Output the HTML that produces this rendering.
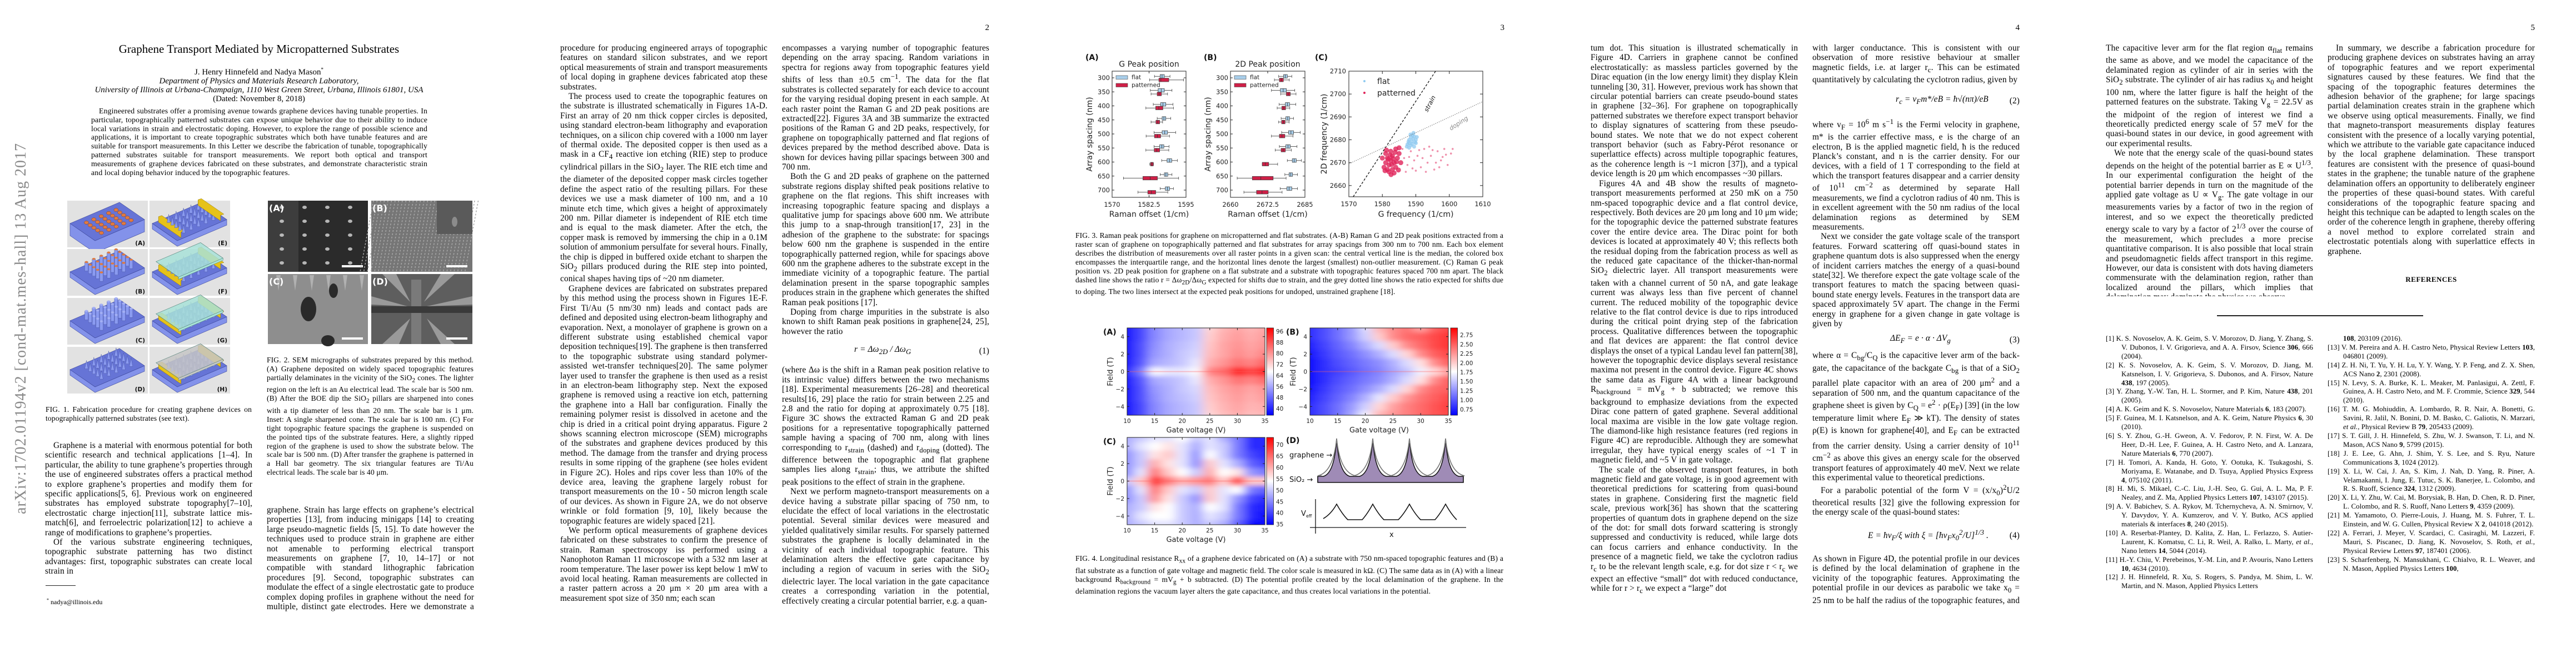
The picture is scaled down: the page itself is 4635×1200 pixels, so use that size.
<!DOCTYPE html>
<html lang="en"><head><meta charset="utf-8"><title>Graphene Transport Mediated by Micropatterned Substrates</title>
<style>
html,body{margin:0;padding:0;background:#fff}
#root{position:relative;width:4635px;height:1200px;overflow:hidden;background:#fff;font-family:"Liberation Serif",serif;color:#000}
.col{position:absolute;width:373px;font-size:15.3px;line-height:17.4px;letter-spacing:0.15px;text-align:justify;overflow:hidden;hyphens:auto}
.col p{margin:0;text-indent:15px}
.col p.ni{text-indent:0}
.eq{display:flex;justify-content:space-between;align-items:center;height:40px;padding-left:60px;font-style:italic}
.eq span.n{font-style:normal}
.cap{position:absolute;font-size:13.5px;line-height:15.9px;text-align:justify;overflow:hidden;letter-spacing:0.15px}
.pn{position:absolute;top:42px;font-size:15px;width:40px;text-align:right}
.refs{position:absolute;width:373px;font-size:12.8px;line-height:15.9px;text-align:justify;overflow:hidden;letter-spacing:0.1px}
.refs div{padding-left:28px;text-indent:-28px}
.ctr{position:absolute;text-align:center;white-space:nowrap}
svg text{font-family:"DejaVu Sans",sans-serif}
</style></head><body>
<div id="root">

<!-- PAGE 1 -->
<div class="ctr" style="left:38px;top:591px;transform:translate(-50%,-50%) rotate(-90deg);font-size:28px;color:#8a8a8a;letter-spacing:1px">arXiv:1702.01194v2  [cond-mat.mes-hall]  13 Aug 2017</div>
<div class="ctr" style="left:0;width:932px;top:76px;font-size:21px">Graphene Transport Mediated by Micropatterned Substrates</div>
<div class="ctr" style="left:0;width:932px;top:117px;font-size:15px;line-height:16px">J. Henry Hinnefeld and Nadya Mason<sup style="font-size:9px">*</sup><br><i>Department of Physics and Materials Research Laboratory,</i><br><i>University of Illinois at Urbana-Champaign, 1110 West Green Street, Urbana, Illinois 61801, USA</i><br>(Dated: November 8, 2018)</div>
<div class="cap" style="left:164px;top:192px;width:605px;font-size:13.8px;line-height:15.8px;text-indent:14px;height:145px">Engineered substrates offer a promising avenue towards graphene devices having tunable properties. In particular, topographically patterned substrates can expose unique behavior due to their ability to induce local variations in strain and electrostatic doping. However, to explore the range of possible science and applications, it is important to create topographic substrates which both have tunable features and are suitable for transport measurements. In this Letter we describe the fabrication of tunable, topographically patterned substrates suitable for transport measurements. We report both optical and transport measurements of graphene devices fabricated on these substrates, and demonstrate characteristic strain and local doping behavior induced by the topographic features.</div>
<div class="cap" style="left:82px;top:729px;width:371px;height:34px">FIG. 1. Fabrication procedure for creating graphene devices on topographically patterned substrates (see text).</div>
<div class="cap" style="left:480px;top:640px;width:372px;height:224px">FIG. 2. SEM micrographs of substrates prepared by this method. (A) Graphene deposited on widely spaced topographic features partially delaminates in the vicinity of the SiO<sub>2</sub> cones. The lighter region on the left is an Au electrical lead. The scale bar is 500 nm. (B) After the BOE dip the SiO<sub>2</sub> pillars are sharpened into cones with a tip diameter of less than 20 nm. The scale bar is 1 μm. Inset: A single sharpened cone. The scale bar is 100 nm. (C) For tight topographic feature spacings the graphene is suspended on the pointed tips of the substrate features. Here, a slightly ripped region of the graphene is used to show the substrate below. The scale bar is 500 nm. (D) After transfer the graphene is patterned in a Hall bar geometry. The six triangular features are Ti/Au electrical leads. The scale bar is 40 μm.</div>
<div class="col" style="left:81px;top:793px;height:245px"><p>Graphene is a material with enormous potential for both scientific research and technical applications [1–4]. In particular, the ability to tune graphene’s properties through the use of engineered substrates offers a practical method to explore graphene’s properties and modify them for specific applications[5, 6]. Previous work on engineered substrates has employed substrate topography[7–10], electrostatic charge injection[11], substrate lattice mis-match[6], and ferroelectric polarization[12] to achieve a range of modifications to graphene’s properties.</p><p>Of the various substrate engineering techniques, topographic substrate patterning has two distinct advantages: first, topographic substrates can create local strain in</p></div>
<div style="position:absolute;left:82px;top:1053px;width:54px;height:1px;background:#222"></div>
<div class="ctr" style="left:84px;top:1075px;font-size:12px"><sup style="font-size:8px">*</sup> nadya@illinois.edu</div>
<div class="col" style="left:480px;top:909px;height:192px"><p class="ni">graphene. Strain has large effects on graphene’s electrical properties [13], from inducing minigaps [14] to creating large pseudo-magnetic fields [5, 15]. To date however the techniques used to produce strain in graphene are either not amenable to performing electrical transport measurements on graphene [7, 10, 14–17] or not compatible with standard lithographic fabrication procedures [9]. Second, topographic substrates can modulate the effect of a single electrostatic gate to produce complex doping profiles in graphene without the need for multiple, distinct gate electrodes. Here we demonstrate a fabrication</p></div>

<!-- PAGE 2 -->
<div class="pn" style="left:1740px">2</div>
<div class="col" style="left:1008px;top:78px;height:1012px"><p class="ni">procedure for producing engineered arrays of topographic features on standard silicon substrates, and we report optical measurements of strain and transport measurements of local doping in graphene devices fabricated atop these substrates.</p><p>The process used to create the topographic features on the substrate is illustrated schematically in Figures 1A-D. First an array of 20 nm thick copper circles is deposited, using standard electron-beam lithography and evaporation techniques, on a silicon chip covered with a 1000 nm layer of thermal oxide. The deposited copper is then used as a mask in a CF<sub>4</sub> reactive ion etching (RIE) step to produce cylindrical pillars in the SiO<sub>2</sub> layer. The RIE etch time and the diameter of the deposited copper mask circles together define the aspect ratio of the resulting pillars. For these devices we use a mask diameter of 100 nm, and a 10 minute etch time, which gives a height of approximately 200 nm. Pillar diameter is independent of RIE etch time and is equal to the mask diameter. After the etch, the copper mask is removed by immersing the chip in a 0.1M solution of ammonium persulfate for several hours. Finally, the chip is dipped in buffered oxide etchant to sharpen the SiO<sub>2</sub> pillars produced during the RIE step into pointed, conical shapes having tips of ~20 nm diameter.</p><p>Graphene devices are fabricated on substrates prepared by this method using the process shown in Figures 1E-F. First Ti/Au (5 nm/30 nm) leads and contact pads are defined and deposited using electron-beam lithography and evaporation. Next, a monolayer of graphene is grown on a different substrate using established chemical vapor deposition techniques[19]. The graphene is then transferred to the topographic substrate using standard polymer-assisted wet-transfer techniques[20]. The same polymer layer used to transfer the graphene is then used as a resist in an electron-beam lithography step. Next the exposed graphene is removed using a reactive ion etch, patterning the graphene into a Hall bar configuration. Finally the remaining polymer resist is dissolved in acetone and the chip is dried in a critical point drying apparatus. Figure 2 shows scanning electron microscope (SEM) micrographs of the substrates and graphene devices produced by this method. The damage from the transfer and drying process results in some ripping of the graphene (see holes evident in Figure 2C). Holes and rips cover less than 10% of the device area, leaving the graphene largely robust for transport measurements on the 10 - 50 micron length scale of our devices. As shown in Figure 2A, we do not observe wrinkle or fold formation [9, 10], likely because the topographic features are widely spaced [21].</p><p>We perform optical measurements of graphene devices fabricated on these substrates to confirm the presence of strain. Raman spectroscopy iss performed using a Nanophoton Raman 11 microscope with a 532 nm laser at room temperature. The laser power iss kept below 1 mW to avoid local heating. Raman measurements are collected in a raster pattern across a 20 μm × 20 μm area with a measurement spot size of 350 nm; each scan</p></div>
<div class="col" style="left:1407px;top:78px;height:1012px"><p class="ni">encompasses a varying number of topographic features depending on the array spacing. Random variations in spectra for regions away from topographic features yield shifts of less than ±0.5 cm<sup>−1</sup>. The data for the flat substrates is collected separately for each device to account for the varying residual doping present in each sample. At each raster point the Raman G and 2D peak positions are extracted[22]. Figures 3A and 3B summarize the extracted positions of the Raman G and 2D peaks, respectively, for graphene on topographically patterned and flat regions of devices prepared by the method described above. Data is shown for devices having pillar spacings between 300 and 700 nm.</p><p>Both the G and 2D peaks of graphene on the patterned substrate regions display shifted peak positions relative to graphene on the flat regions. This shift increases with increasing topographic feature spacing and displays a qualitative jump for spacings above 600 nm. We attribute this jump to a snap-through transition[17, 23] in the adhesion of the graphene to the substrate: for spacings below 600 nm the graphene is suspended in the entire topographically patterned region, while for spacings above 600 nm the graphene adheres to the substrate except in the immediate vicinity of a topographic feature. The partial delamination present in the sparse topographic samples produces strain in the graphene which generates the shifted Raman peak positions [17].</p><p>Doping from charge impurities in the substrate is also known to shift Raman peak positions in graphene[24, 25], however the ratio</p><div class="eq" style="height:52px;padding-left:130px"><span>r = Δω<sub>2D</sub> / Δω<sub>G</sub></span><span class="n">(1)</span></div><p class="ni">(where Δω is the shift in a Raman peak position relative to its intrinsic value) differs between the two mechanisms [18]. Experimental measurements [26–28] and theoretical results[16, 29] place the ratio for strain between 2.25 and 2.8 and the ratio for doping at approximately 0.75 [18]. Figure 3C shows the extracted Raman G and 2D peak positions for a representative topographically patterned sample having a spacing of 700 nm, along with lines corresponding to r<sub>strain</sub> (dashed) and r<sub>doping</sub> (dotted). The difference between the topographic and flat graphene samples lies along r<sub>strain</sub>; thus, we attribute the shifted peak positions to the effect of strain in the graphene.</p><p>Next we perform magneto-transport measurements on a device having a substrate pillar spacing of 750 nm, to elucidate the effect of local variations in the electrostatic potential. Several similar devices were measured and yielded qualitatively similar results. For sparsely patterned substrates the graphene is locally delaminated in the vicinity of each individual topographic feature. This delamination alters the effective gate capacitance by including a region of vacuum in series with the SiO<sub>2</sub> dielectric layer. The local variation in the gate capacitance creates a corresponding variation in the potential, effectively creating a circular potential barrier, e.g. a quan-</p></div>

<!-- PAGE 3 -->
<div class="pn" style="left:2667px">3</div>
<div class="cap" style="left:1935px;top:416px;width:770px;height:128px">FIG. 3. Raman peak positions for graphene on micropatterned and flat substrates. (A-B) Raman G and 2D peak positions extracted from a raster scan of graphene on topographically patterned and flat substrates for array spacings from 300 nm to 700 nm. Each box element describes the distribution of measurements over all raster points in a given scan: the central vertical line is the median, the colored box encompasses the interquartile range, and the horizontal lines denote the largest (smallest) non-outlier measurement. (C) Raman G peak position vs. 2D peak position for graphene on a flat substrate and a substrate with topographic features spaced 700 nm apart. The black dashed line shows the ratio r = Δω<sub>2D</sub>/Δω<sub>G</sub> expected for shifts due to strain, and the grey dotted line shows the ratio expected for shifts due to doping. The two lines intersect at the expected peak positions for undoped, unstrained graphene [18].</div>
<div class="cap" style="left:1935px;top:997px;width:770px;height:80px">FIG. 4. Longitudinal resistance R<sub>xx</sub> of a graphene device fabricated on (A) a substrate with 750 nm-spaced topographic features and (B) a flat substrate as a function of gate voltage and magnetic field. The color scale is measured in kΩ. (C) The same data as in (A) with a linear background R<sub>background</sub> = mV<sub>g</sub> + b subtracted. (D) The potential profile created by the local delamination of the graphene. In the delamination regions the vacuum layer alters the gate capacitance, and thus creates local variations in the potential.</div>

<!-- PAGE 4 -->
<div class="pn" style="left:3594px">4</div>
<div class="col" style="left:2862px;top:78px;height:1012px"><p class="ni">tum dot. This situation is illustrated schematically in Figure 4D. Carriers in graphene cannot be confined electrostatically: as massless particles governed by the Dirac equation (in the low energy limit) they display Klein tunneling [30, 31]. However, previous work has shown that circular potential barriers can create pseudo-bound states in graphene [32–36]. For graphene on topographically patterned substrates we therefore expect transport behavior to display signatures of scattering from these pseudo-bound states. We note that we do not expect coherent transport behavior (such as Fabry-Pérot resonance or superlattice effects) across multiple topographic features, as the coherence length is ~1 micron [37]), and a typical device length is 20 μm which encompasses ~30 pillars.</p><p>Figures 4A and 4B show the results of magneto-transport measurements performed at 250 mK on a 750 nm-spaced topographic device and a flat control device, respectively. Both devices are 20 μm long and 10 μm wide; for the topographic device the patterned substrate features cover the entire device area. The Dirac point for both devices is located at approximately 40 V; this reflects both the residual doping from the fabrication process as well as the reduced gate capacitance of the thicker-than-normal SiO<sub>2</sub> dielectric layer. All transport measurements were taken with a channel current of 50 nA, and gate leakage current was always less than five percent of channel current. The reduced mobility of the topographic device relative to the flat control device is due to rips introduced during the critical point drying step of the fabrication process. Qualitative differences between the topographic and flat devices are apparent: the flat control device displays the onset of a typical Landau level fan pattern[38], however the topographic device displays several resistance maxima not present in the control device. Figure 4C shows the same data as Figure 4A with a linear background R<sub>background</sub> = mV<sub>g</sub> + b subtracted; we remove this background to emphasize deviations from the expected Dirac cone pattern of gated graphene. Several additional local maxima are visible in the low gate voltage region. The diamond-like high resistance features (red regions in Figure 4C) are reproducible. Although they are somewhat irregular, they have typical energy scales of ~1 T in magnetic field, and ~5 V in gate voltage.</p><p>The scale of the observed transport features, in both magnetic field and gate voltage, is in good agreement with theoretical predictions for scattering from quasi-bound states in graphene. Considering first the magnetic field scale, previous work[36] has shown that the scattering properties of quantum dots in graphene depend on the size of the dot: for small dots forward scattering is strongly suppressed and conductivity is reduced, while large dots can focus carriers and enhance conductivity. In the presence of a magnetic field, we take the cyclotron radius r<sub>c</sub> to be the relevant length scale, e.g. for dot size r &lt; r<sub>c</sub> we expect an effective “small” dot with reduced conductance, while for r &gt; r<sub>c</sub> we expect a “large” dot</p></div>
<div class="col" style="left:3261px;top:78px;height:1012px"><p class="ni">with larger conductance. This is consistent with our observation of more resistive behaviour at smaller magnetic fields, i.e. at larger r<sub>c</sub>. This can be estimated quantitatively by calculating the cyclotron radius, given by</p><div class="eq" style="height:58px;padding-left:150px"><span>r<sub>c</sub> = v<sub>F</sub>m*/eB = ħ√(nπ)/eB</span><span class="n">(2)</span></div><p class="ni">where v<sub>F</sub> = 10<sup>6</sup> m s<sup>−1</sup> is the Fermi velocity in graphene, m* is the carrier effective mass, e is the charge of an electron, B is the applied magnetic field, ħ is the reduced Planck’s constant, and n is the carrier density. For our devices, with a field of 1 T corresponding to the field at which the transport features disappear and a carrier density of 10<sup>11</sup> cm<sup>−2</sup> as determined by separate Hall measurements, we find a cyclotron radius of 40 nm. This is in excellent agreement with the 50 nm radius of the local delamination regions as determined by SEM measurements.</p><p>Next we consider the gate voltage scale of the transport features. Forward scattering off quasi-bound states in graphene quantum dots is also suppressed when the energy of incident carriers matches the energy of a quasi-bound state[32]. We therefore expect the gate voltage scale of the transport features to match the spacing between quasi-bound state energy levels. Features in the transport data are spaced approximately 5V apart. The change in the Fermi energy in graphene for a given change in gate voltage is given by</p><div class="eq" style="padding-left:140px"><span>ΔE<sub>F</sub> = e · α · ΔV<sub>g</sub></span><span class="n">(3)</span></div><p class="ni">where α = C<sub>bg</sub>/C<sub>Q</sub> is the capacitive lever arm of the back-gate, the capacitance of the backgate C<sub>bg</sub> is that of a SiO<sub>2</sub> parallel plate capacitor with an area of 200 μm<sup>2</sup> and a separation of 500 nm, and the quantum capacitance of the graphene sheet is given by C<sub>Q</sub> = e<sup>2</sup> · ρ(E<sub>F</sub>) [39] (in the low temperature limit where E<sub>F</sub> ≫ kT). The density of states ρ(E) is known for graphene[40], and E<sub>F</sub> can be extracted from the carrier density. Using a carrier density of 10<sup>11</sup> cm<sup>−2</sup> as above this gives an energy scale for the observed transport features of approximately 40 meV. Next we relate this experimental value to theoretical predictions.</p><p>For a parabolic potential of the form V = (x/x<sub>0</sub>)<sup>2</sup>U/2 theoretical results [32] give the following expression for the energy scale of the quasi-bound states:</p><div class="eq" style="height:66px;padding-left:100px"><span>E = ħv<sub>F</sub>/ξ   with   ξ = [ħv<sub>F</sub>x<sub>0</sub><sup>2</sup>/U]<sup>1/3</sup> .</span><span class="n">(4)</span></div><p class="ni">As shown in Figure 4D, the potential profile in our devices is defined by the local delamination of graphene in the vicinity of the topographic features. Approximating the potential profile in our devices as parabolic we take x<sub>0</sub> = 25 nm to be half the radius of the topographic features, and U to be the change in potential created by the locally varying gate capacitance</p><div class="eq" style="padding-left:100px"><span>U = e · V<sub>g</sub> · (α<sub>delaminated</sub> − α<sub>flat</sub>).</span><span class="n">(5)</span></div></div>

<!-- PAGE 5 -->
<div class="pn" style="left:4521px">5</div>
<div class="col" style="left:3789px;top:78px;height:455px"><p class="ni">The capacitive lever arm for the flat region α<sub>flat</sub> remains the same as above, and we model the capacitance of the delaminated region as cylinder of air in series with the SiO<sub>2</sub> substrate. The cylinder of air has radius x<sub>0</sub> and height 100 nm, where the latter figure is half the height of the patterned features on the substrate. Taking V<sub>g</sub> = 22.5V as the midpoint of the region of interest we find a theoretically predicted energy scale of 57 meV for the quasi-bound states in our device, in good agreement with our experimental results.</p><p>We note that the energy scale of the quasi-bound states depends on the height of the potential barrier as E ∝ U<sup>1/3</sup>. In our experimental configuration the height of the potential barrier depends in turn on the magnitude of the applied gate voltage as U ∝ V<sub>g</sub>. The gate voltage in our measurements varies by a factor of two in the region of interest, and so we expect the theoretically predicted energy scale to vary by a factor of 2<sup>1/3</sup> over the course of the measurement, which precludes a more precise quantitative comparison. It is also possible that local strain and pseudomagnetic fields affect transport in this regime. However, our data is consistent with dots having diameters commensurate with the delamination region, rather than localized around the pillars, which implies that delamination may dominate the physics we observe.</p></div>
<div class="col" style="left:4188px;top:78px;height:386px"><p>In summary, we describe a fabrication procedure for producing graphene devices on substrates having an array of topographic features and we report experimental signatures caused by these features. We find that the spacing of the topographic features determines the adhesion behavior of the graphene; for large spacings partial delamination creates strain in the graphene which we observe using optical measurements. Finally, we find that magneto-transport measurements display features consistent with the presence of a locally varying potential, which we attribute to the variable gate capacitance induced by the local graphene delamination. These transport features are consistent with the presence of quasi-bound states in the graphene; the tunable nature of the graphene delamination offers an opportunity to deliberately engineer the properties of these quasi-bound states. With careful considerations of the topographic feature spacing and height this technique can be adapted to length scales on the order of the coherence length in graphene, thereby offering a novel method to explore correlated strain and electrostatic potentials along with superlattice effects in graphene.</p></div>
<div class="ctr" style="left:4188px;width:373px;top:495px;font-size:13px;font-weight:bold;letter-spacing:0.5px">REFERENCES</div>
<div style="position:absolute;left:3989px;top:567px;width:371px;height:2px;background:#222"></div>
<div class="refs" style="left:3789px;top:602px;height:493px">
<div>[1] K. S. Novoselov, A. K. Geim, S. V. Morozov, D. Jiang, Y. Zhang, S. V. Dubonos, I. V. Grigorieva, and A. A. Firsov, Science <b>306</b>, 666 (2004).</div>
<div>[2] K. S. Novoselov, A. K. Geim, S. V. Morozov, D. Jiang, M. Katsnelson, I. V. Grigorieva, S. Dubonos, and A. Firsov, Nature <b>438</b>, 197 (2005).</div>
<div>[3] Y. Zhang, Y.-W. Tan, H. L. Stormer, and P. Kim, Nature <b>438</b>, 201 (2005).</div>
<div>[4] A. K. Geim and K. S. Novoselov, Nature Materials <b>6</b>, 183 (2007).</div>
<div>[5] F. Guinea, M. I. Katsnelson, and A. K. Geim, Nature Physics <b>6</b>, 30 (2010).</div>
<div>[6] S. Y. Zhou, G.-H. Gweon, A. V. Fedorov, P. N. First, W. A. De Heer, D.-H. Lee, F. Guinea, A. H. Castro Neto, and A. Lanzara, Nature Materials <b>6</b>, 770 (2007).</div>
<div>[7] H. Tomori, A. Kanda, H. Goto, Y. Ootuka, K. Tsukagoshi, S. Moriyama, E. Watanabe, and D. Tsuya, Applied Physics Express <b>4</b>, 075102 (2011).</div>
<div>[8] H. Mi, S. Mikael, C.-C. Liu, J.-H. Seo, G. Gui, A. L. Ma, P. F. Nealey, and Z. Ma, Applied Physics Letters <b>107</b>, 143107 (2015).</div>
<div>[9] A. V. Babichev, S. A. Rykov, M. Tchernycheva, A. N. Smirnov, V. Y. Davydov, Y. A. Kumzerov, and V. Y. Butko, ACS applied materials &amp; interfaces <b>8</b>, 240 (2015).</div>
<div>[10] A. Reserbat-Plantey, D. Kalita, Z. Han, L. Ferlazzo, S. Autier-Laurent, K. Komatsu, C. Li, R. Weil, A. Ralko, L. Marty, <i>et al.</i>, Nano letters <b>14</b>, 5044 (2014).</div>
<div>[11] H.-Y. Chiu, V. Perebeinos, Y.-M. Lin, and P. Avouris, Nano Letters <b>10</b>, 4634 (2010).</div>
<div>[12] J. H. Hinnefeld, R. Xu, S. Rogers, S. Pandya, M. Shim, L. W. Martin, and N. Mason, Applied Physics Letters</div>
</div>
<div class="refs" style="left:4188px;top:602px;height:493px">
<div style="padding-left:28px;text-indent:0"><b>108</b>, 203109 (2016).</div>
<div>[13] V. M. Pereira and A. H. Castro Neto, Physical Review Letters <b>103</b>, 046801 (2009).</div>
<div>[14] Z. H. Ni, T. Yu, Y. H. Lu, Y. Y. Wang, Y. P. Feng, and Z. X. Shen, ACS Nano <b>2</b>, 2301 (2008).</div>
<div>[15] N. Levy, S. A. Burke, K. L. Meaker, M. Panlasigui, A. Zettl, F. Guinea, A. H. Castro Neto, and M. F. Crommie, Science <b>329</b>, 544 (2010).</div>
<div>[16] T. M. G. Mohiuddin, A. Lombardo, R. R. Nair, A. Bonetti, G. Savini, R. Jalil, N. Bonini, D. M. Basko, C. Galiotis, N. Marzari, <i>et al.</i>, Physical Review B <b>79</b>, 205433 (2009).</div>
<div>[17] S. T. Gill, J. H. Hinnefeld, S. Zhu, W. J. Swanson, T. Li, and N. Mason, ACS Nano <b>9</b>, 5799 (2015).</div>
<div>[18] J. E. Lee, G. Ahn, J. Shim, Y. S. Lee, and S. Ryu, Nature Communications <b>3</b>, 1024 (2012).</div>
<div>[19] X. Li, W. Cai, J. An, S. Kim, J. Nah, D. Yang, R. Piner, A. Velamakanni, I. Jung, E. Tutuc, S. K. Banerjee, L. Colombo, and R. S. Ruoff, Science <b>324</b>, 1312 (2009).</div>
<div>[20] X. Li, Y. Zhu, W. Cai, M. Borysiak, B. Han, D. Chen, R. D. Piner, L. Colombo, and R. S. Ruoff, Nano Letters <b>9</b>, 4359 (2009).</div>
<div>[21] M. Yamamoto, O. Pierre-Louis, J. Huang, M. S. Fuhrer, T. L. Einstein, and W. G. Cullen, Physical Review X <b>2</b>, 041018 (2012).</div>
<div>[22] A. Ferrari, J. Meyer, V. Scardaci, C. Casiraghi, M. Lazzeri, F. Mauri, S. Piscanec, D. Jiang, K. Novoselov, S. Roth, <i>et al.</i>, Physical Review Letters <b>97</b>, 187401 (2006).</div>
<div>[23] S. Scharfenberg, N. Mansukhani, C. Chialvo, R. L. Weaver, and N. Mason, Applied Physics Letters <b>100</b>,</div>
</div>

<svg id="figs" width="4635" height="1200" viewBox="0 0 4635 1200" style="position:absolute;left:0;top:0" xmlns="http://www.w3.org/2000/svg">
<defs>
<filter id="hblur" x="-5%" y="-5%" width="110%" height="110%"><feGaussianBlur stdDeviation="9 4"/></filter>
<clipPath id="clipA"><rect x="2028" y="590" width="248" height="157"/></clipPath>
<clipPath id="clipB"><rect x="2357" y="590" width="249" height="157"/></clipPath>
<clipPath id="clipC"><rect x="2028" y="787" width="248" height="157"/></clipPath>
<linearGradient id="cbar" x1="0" y1="1" x2="0" y2="0"><stop offset="0" stop-color="#0000ff"/><stop offset="0.5" stop-color="#ffffff"/><stop offset="1" stop-color="#ff0000"/></linearGradient>
</defs>
<g id="fig1"></g>
<g id="fig2"></g>
<g id="fig3"></g>
<g id="fig4"></g>
</svg>
</div>
<script>
// ---------- Figure 3 data ----------
const spacings=[300,350,400,450,500,550,600,650,700];
const gFlatQ1=[1586.25,1585.58,1586.42,1586.92,1586.92,1586.08,1588.58,1587.67,1588.0];
const gFlatQ3=[1587.67,1587.67,1588.17,1588.17,1588.75,1587.5,1590.17,1588.83,1589.42];
const gFlatLo=[1584.33,1582.92,1583.92,1585.25,1584.17,1584.17,1586.75,1586.25,1586.25];
const gFlatHi=[1589.58,1590.25,1590.58,1589.83,1591.5,1589.25,1592.08,1590.25,1590.75];
const gFlatMed=[1586.9,1586.6,1587.2,1587.5,1587.8,1586.8,1589.4,1588.2,1588.7];
const gPatQ1=[1585.83,1585.25,1584.75,1584.83,1584.33,1584.25,1583.0,1580.42,1582.08];
const gPatQ3=[1589.17,1586.67,1587.17,1586.08,1586.42,1586.08,1583.92,1585.33,1584.75];
const gPatLo=[1582.67,1583.17,1581.42,1583.17,1581.5,1581.42,1582.75,1573.83,1578.75];
const gPatHi=[1594.17,1588.75,1590.75,1587.08,1589.42,1589.17,1584.0,1592.5,1588.83];
const gPatMed=[1586.5,1585.9,1585.8,1585.4,1585.3,1585.1,1583.4,1582.9,1583.3];
const dFlatQ1=[2677.83,2676.75,2678.42,2678.58,2679.5,2678.58,2680.75,2679.67,2678.92];
const dFlatQ3=[2679.08,2678.75,2679.83,2679.83,2681.17,2680.08,2682.08,2680.83,2680.58];
const dFlatLo=[2676.17,2673.75,2676.33,2677.0,2677.17,2676.42,2679.08,2678.25,2676.67];
const dFlatHi=[2680.58,2681.58,2681.92,2681.17,2683.42,2682.33,2683.83,2682.5,2682.5];
const dFlatMed=[2678.4,2677.7,2679.1,2679.2,2680.3,2679.3,2681.4,2680.2,2679.7];
const dPatQ1=[2676.42,2678.75,2677.25,2677.17,2676.42,2677.0,2670.67,2667.33,2668.75];
const dPatQ3=[2677.75,2680.08,2678.5,2678.33,2678.25,2678.42,2672.83,2674.33,2672.67];
const dPatLo=[2674.75,2676.83,2675.67,2676.17,2673.75,2675.0,2670.67,2662.25,2664.5];
const dPatHi=[2679.75,2682.0,2679.92,2679.67,2681.0,2680.42,2675.83,2678.67,2677.33];
const dPatMed=[2677.1,2679.4,2677.9,2677.8,2677.3,2677.7,2671.7,2670.2,2670.6];
const gTicks=[1570,1582.5,1595];
const dTicks=[2660,2672.5,2685];
// scatter (G, 2D)
const flatG=[1587.5,1588,1588.5,1589,1589.5,1590,1590,1589.5,1588.5,1588,1588.8,1589.2,1587.8,1589.8,1588.4,1589.3,1587.3,1588,1590.3,1588.9];
const flat2D=[2678,2680,2681,2682,2681.5,2680,2678.5,2677,2677.5,2678.5,2679.3,2680.4,2679.2,2679,2682.3,2683,2677,2676.5,2681.2,2678.2];
const patCoreG=[1580.5,1581,1581.5,1582,1582.5,1583,1583.5,1584,1584.5,1585,1582,1583,1581,1582.5,1584,1585.5,1580,1581.5,1583.5,1582.8,1581.8,1583.2,1584.2,1582.3,1580.8,1585,1583.8,1581.2,1582.6,1584.8];
const patCore2D=[2668,2670,2672,2669,2671,2673,2670,2668,2672,2674,2666,2667,2674,2675,2676,2670,2672,2667,2665.5,2669.2,2671.5,2671.8,2670.4,2673.3,2666.5,2676.5,2674.5,2675.5,2664.8,2666.8];
const patSparseG=[1586.5,1587.5,1588.5,1589.5,1590.5,1591.5,1592.5,1593.5,1594.5,1595.5,1596.5,1597.5,1598.5,1599.5,1600.5,1587,1590,1592,1594,1596,1598,1588,1591,1593,1589,1586,1595,1597,1599,1601];
const patSparse2D=[2672,2669,2675,2671,2673,2668,2676,2670,2673,2667,2675,2671,2676,2669,2674,2666,2666.5,2672,2677,2670,2672.5,2672.5,2675.5,2666,2667.5,2676,2675.5,2668,2673.5,2676];
const scatterXTicks=[1570,1580,1590,1600,1610];
const scatterYTicks=[2660,2670,2680,2690,2700,2710];
const strainLine=[[1571.3,2655.1],[1595.9,2710]];
const dopingLine=[[1570,2669.5],[1610,2696.7]];
// ---------- Figure 4 data ----------
const gateV=[10,12.5,15,17.5,20,22.5,25,27.5,30,32.5,35];
const fieldT=[5,4,3,2,1,0,-1,-2,-3,-4,-5];
const gateTicks=[10,15,20,25,30,35];
const fieldTicks=[4,2,0,-2,-4];
const rA=[
[38,44,52,56,58,60,72,76,78,76,78],
[38,44,52,56,58,60,73,77,79,77,79],
[38,45,53,57,59,61,74,78,80,78,80],
[38,45,54,57,60,62,75,78,81,79,82],
[38,46,56,58,60,64,77,80,84,82,86],
[40,50,66,64,64,66,82,85,94,90,94],
[38,46,56,58,60,64,77,80,84,82,85],
[38,45,54,57,60,62,75,78,80,78,80],
[38,45,53,57,59,61,74,77,79,77,79],
[38,44,52,56,58,60,73,76,78,76,77],
[38,44,52,56,58,60,72,75,77,75,76]];
const rB=[
[0.8,0.95,1.1,1.3,1.6,2.1,2.3,2.4,2.2,2.5,2.6],
[0.8,0.95,1.1,1.3,1.55,2.0,2.3,2.45,2.5,2.6,2.7],
[0.75,0.9,1.05,1.2,1.4,1.6,2.0,2.3,2.45,2.6,2.7],
[0.7,0.85,1.0,1.1,1.25,1.4,1.6,1.95,2.3,2.5,2.6],
[0.65,0.8,0.95,1.05,1.15,1.25,1.4,1.6,1.9,2.3,2.5],
[0.65,0.8,0.9,1.0,1.1,1.2,1.35,1.5,1.7,1.95,2.2],
[0.65,0.8,0.95,1.05,1.15,1.25,1.4,1.6,1.9,2.3,2.5],
[0.7,0.85,1.0,1.1,1.25,1.4,1.6,1.95,2.3,2.45,2.5],
[0.75,0.9,1.05,1.2,1.4,1.65,2.0,2.25,2.4,2.5,2.6],
[0.8,0.95,1.1,1.3,1.55,1.95,2.2,2.35,2.45,2.55,2.65],
[0.8,0.95,1.1,1.35,1.7,2.1,2.25,2.35,2.45,2.55,2.6]];
const rC=[
[48,50,52,52,54,50,52,48,44,38,38],
[48,52,54,56,52,48,52,50,44,38,38],
[46,50,56,58,52,46,54,50,44,40,38],
[46,50,60,56,52,46,58,52,48,42,40],
[46,52,64,58,54,50,60,54,56,46,44],
[50,58,70,64,60,62,64,58,68,58,58],
[46,52,64,58,52,50,58,52,54,44,42],
[46,50,62,56,50,46,58,52,46,40,38],
[48,50,56,54,50,48,54,52,44,38,37],
[48,52,54,54,50,48,52,50,44,38,36],
[48,50,52,52,50,48,50,48,42,36,36]];
const cbarTicksA=[40,48,56,64,72,80,88,96];
const cbarTicksB=[0.75,1.00,1.25,1.50,1.75,2.00,2.25,2.50,2.75];
const cbarTicksC=[35,40,45,50,55,60,65,70];

const NS='http://www.w3.org/2000/svg';
function mk(tag,attrs,parent){const e=document.createElementNS(NS,tag);for(const k in attrs)e.setAttribute(k,attrs[k]);parent.appendChild(e);return e;}
function tx(str,attrs,parent){const e=mk('text',attrs,parent);e.textContent=str;return e;}
function lin(d0,d1,r0,r1){return v=>r0+(v-d0)/(d1-d0)*(r1-r0);}
function fmt(v){return (''+v).replace('-','\u2212');}

// ---------- Figure 1: schematic ----------
(function(){
const g=document.getElementById('fig1');
const panels=[[121,361,'(A)','dots'],[121,448,'(B)','capped'],[121,536,'(C)','pillars'],[121,624,'(D)','cones'],
[269,361,'(E)','pads'],[269,448,'(F)','plateUp'],[269,536,'(G)','plate'],[269,624,'(H)','graphene']];
panels.forEach(p=>{
 const [x,y,lab,kind]=p;
 const pg=mk('g',{},g);
 
 
 mk('rect',{x:x,y:y,width:145,height:84,fill:'#e2e2e2'},pg);
 const P=(u,v)=>[x+5+u*89+v*45,y+41-u*38+v*31];
 const thick=(kind==='dots')?22:10;
 const L=P(0,0),T=P(1,0),R=P(1,1),B=P(0,1);
 mk('polygon',{points:`${L} ${B} ${R} ${R[0]},${R[1]+thick} ${B[0]},${B[1]+thick} ${L[0]},${L[1]+thick}`,fill:'#8392ea',stroke:'#3b4699','stroke-width':0.6},pg);
 mk('polygon',{points:`${L} ${T} ${R} ${B}`,fill:'#6674d6',stroke:'#3b4699','stroke-width':0.6},pg);
 const pts=[];const us=[0.22,0.37,0.52,0.67,0.82];
 us.forEach(u=>us.forEach(v=>pts.push(P(u,v))));
 pts.sort((a,b)=>a[1]-b[1]);
 if(kind==='pads'||kind==='plate'||kind==='graphene'||kind==='plateUp'){
   const a=P(0.1,0.05),b=P(0.1,0.95);
   mk('polygon',{points:`${a[0]},${a[1]-10} ${a[0]+6},${a[1]-12} ${b[0]+6},${b[1]-12} ${b[0]},${b[1]-10} ${b[0]},${b[1]} ${a[0]},${a[1]}`,fill:'#e6c21a',stroke:'#8a7000','stroke-width':0.5},pg);
 }
 pts.forEach(q=>{
  if(kind==='dots'){mk('ellipse',{cx:q[0],cy:q[1],rx:4,ry:3,fill:'#e07a40',stroke:'#8a3a10','stroke-width':0.5},pg);}
  else if(kind==='capped'||kind==='pillars'){
   mk('rect',{x:q[0]-3,y:q[1]-16,width:6,height:16,fill:'#8a9af0',stroke:'#44509c','stroke-width':0.4},pg);
   mk('ellipse',{cx:q[0],cy:q[1]-16,rx:3,ry:1.8,fill:kind==='capped'?'#e07a40':'#a4b0f4'},pg);
  } else {
   mk('polygon',{points:`${q[0]-3},${q[1]} ${q[0]},${q[1]-15} ${q[0]+3},${q[1]}`,fill:'#8a9af0',stroke:'#44509c','stroke-width':0.4},pg);
  }
 });
 if(kind==='pads'||kind==='plate'||kind==='graphene'||kind==='plateUp'){
   const a=P(0.9,0.05),b=P(0.9,0.95);
   mk('polygon',{points:`${a[0]},${a[1]-10} ${a[0]+6},${a[1]-12} ${b[0]+6},${b[1]-12} ${b[0]},${b[1]-10} ${b[0]},${b[1]} ${a[0]},${a[1]}`,fill:'#e6c21a',stroke:'#8a7000','stroke-width':0.5},pg);
 }
 if(kind==='plate'||kind==='graphene'||kind==='plateUp'){
   const dy=kind==='plateUp'?-18:-12;
   const a=P(0.05,0.05),b=P(0.95,0.05),c=P(0.95,0.95),d=P(0.05,0.95);
   const col=kind==='graphene'?'#c6c6c6':'#a8e2d8';
   mk('polygon',{points:`${a[0]},${a[1]+dy} ${b[0]},${b[1]+dy} ${c[0]},${c[1]+dy} ${d[0]},${d[1]+dy}`,fill:col,'fill-opacity':0.85,stroke:'#4a7a70','stroke-width':0.6},pg);
   mk('polygon',{points:`${d[0]},${d[1]+dy} ${c[0]},${c[1]+dy} ${c[0]},${c[1]+dy+4} ${d[0]},${d[1]+dy+4}`,fill:col,stroke:'#4a7a70','stroke-width':0.5},pg);
 }
 const t=tx(lab,{x:x+140,y:y+80,'text-anchor':'end','font-size':10.5,'font-weight':'bold',fill:'#111'},pg);
 
 
});
})();

// ---------- Figure 2: SEM ----------
(function(){
const g=document.getElementById('fig2');
const sp=[[482,361,180,128,'#2b2b2b','(A)'],[668,361,182,128,'#767676','(B)'],[482,493,180,126,'#8e8e8e','(C)'],[668,493,182,126,'#5e5e5e','(D)']];
sp.forEach((s,i)=>{
 const [x,y,w,h,c,lab]=s;
 const pg=mk('g',{},g);
 
 
 mk('rect',{x:x,y:y,width:w,height:h,fill:c},pg);
 if(i===0){
  mk('rect',{x:x,y:y,width:55,height:h,fill:'#3d3d3d'},pg);
  for(let r=0;r<5;r++)for(let k=0;k<4;k++){mk('ellipse',{cx:x+25+k*41,cy:y+12+r*25,rx:4,ry:3,fill:'#d8d8d8','fill-opacity':0.8},pg);}
 } else if(i===1){
  for(let k=0;k<30;k++)mk('line',{x1:x+4+k*6.5,y1:y,x2:x-20+k*6.5,y2:y+h,stroke:'#a9a9a9','stroke-width':1.5,'stroke-dasharray':'3 3'},pg);
  mk('rect',{x:x+118,y:y,width:64,height:60,fill:'#5a5a5a'},pg);
  mk('ellipse',{cx:x+150,cy:y+38,rx:5,ry:9,fill:'#8c8c8c'},pg);
 } else if(i===2){
  mk('ellipse',{cx:x+73,cy:y+63,rx:14,ry:22,fill:'#2a2a2a'},pg);
  mk('ellipse',{cx:x+118,cy:y+30,rx:8,ry:13,fill:'#2a2a2a'},pg);
  mk('ellipse',{cx:x+108,cy:y+120,rx:12,ry:10,fill:'#2a2a2a'},pg);
  for(let k=0;k<6;k++)mk('polygon',{points:`${x+15+k*30},${y+2} ${x+19+k*30},${y+30} ${x+23+k*30},${y+2}`,fill:'#c8c8c8','fill-opacity':0.6},pg);
 } else {
  mk('rect',{x:x+72,y:y+10,width:18,height:h-10,fill:'#7a7a7a'},pg);
  mk('rect',{x:x,y:y+58,width:w,height:12,fill:'#3a3a3a'},pg);
  mk('polygon',{points:`${x+20},${y} ${x+70},${y+50} ${x+45},${y}`,fill:'#9a9a9a'},pg);
  mk('polygon',{points:`${x+150},${y} ${x+95},${y+50} ${x+125},${y}`,fill:'#9a9a9a'},pg);
  mk('polygon',{points:`${x},${y+40} ${x+65},${y+58} ${x},${y+55}`,fill:'#9a9a9a'},pg);
  mk('polygon',{points:`${x+w},${y+40} ${x+100},${y+58} ${x+w},${y+55}`,fill:'#9a9a9a'},pg);
  mk('polygon',{points:`${x+20},${y+h} ${x+70},${y+80} ${x+50},${y+h}`,fill:'#9a9a9a'},pg);
  mk('polygon',{points:`${x+150},${y+h} ${x+100},${y+80} ${x+125},${y+h}`,fill:'#9a9a9a'},pg);
 }
 mk('rect',{x:x+w-47,y:y+h-12,width:38,height:4,fill:'#fff'},pg);
 const t=tx(lab,{x:x+2,y:y+19,'font-size':16,'font-weight':'bold',fill:'#fff'},pg);
 
 
});
})();

// ---------- Figure 3: box plots & scatter ----------
function axesFrame(g,x0,y0,x1,y1){
 const r=mk('rect',{x:x0,y:y0,width:x1-x0,height:y1-y0,fill:'none',stroke:'#222','stroke-width':1},g);
 
 
}
function boxPanel(g,x0,x1,dmin,dmax,ticks,tickTxt,title,label,fq1,fq3,flo,fhi,fmed,pq1,pq3,plo,phi,pmed){
 const y0=128,y1=355;
 const X=lin(dmin,dmax,x0,x1), Y=lin(300,700,140,342);
 axesFrame(g,x0,y0,x1,y1);
 ticks.forEach((t,i)=>{
  const tl=mk('line',{x1:X(t),y1:y0,x2:X(t),y2:y0+4,stroke:'#222'},g);
  
  
  const tb=mk('line',{x1:X(t),y1:y1,x2:X(t),y2:y1-4,stroke:'#222'},g);
  
  
  const lt=tx(tickTxt[i],{x:X(t),y:y1+17,'text-anchor':'middle','font-size':11.5,fill:'#222'},g);
  
  
 });
 spacings.forEach((s,i)=>{
  const yy=Y(s);
  const a=mk('line',{x1:x0,y1:yy,x2:x0+4,y2:yy,stroke:'#222'},g);
  
  
  const b=mk('line',{x1:x1,y1:yy,x2:x1-4,y2:yy,stroke:'#222'},g);
  
  
  const lt=tx(String(s),{x:x0-4,y:yy+4,'text-anchor':'end','font-size':11.5,fill:'#222'},g);
  
  
  [[fq1,fq3,flo,fhi,fmed,'#a9cfeb',-2.7,'flat'],[pq1,pq3,plo,phi,pmed,'#cf1f47',3.8,'patterned']].forEach(d=>{
   const cy=yy+d[6];
   const w=mk('line',{x1:X(d[2][i]),y1:cy,x2:X(d[3][i]),y2:cy,stroke:'#444','stroke-width':0.8},g);
   
   
   const c1=mk('line',{x1:X(d[2][i]),y1:cy-2.5,x2:X(d[2][i]),y2:cy+2.5,stroke:'#444','stroke-width':0.8},g);
   
   
   const c2=mk('line',{x1:X(d[3][i]),y1:cy-2.5,x2:X(d[3][i]),y2:cy+2.5,stroke:'#444','stroke-width':0.8},g);
   
   
   const bx=mk('rect',{x:X(d[0][i]),y:cy-3.2,width:Math.max(1,X(d[1][i])-X(d[0][i])),height:6.4,fill:d[5],stroke:'#444','stroke-width':0.8},g);
   
   
   const md=mk('line',{x1:X(d[4][i]),y1:cy-3.2,x2:X(d[4][i]),y2:cy+3.2,stroke:'#333','stroke-width':0.8},g);
   
   
  });
 });
 const tt=tx(title,{x:(x0+x1)/2,y:120,'text-anchor':'middle','font-size':14,fill:'#222'},g);
 
 
 const xl=tx('Raman offset (1/cm)',{x:(x0+x1)/2,y:390,'text-anchor':'middle','font-size':14,fill:'#222'},g);
 
 
 const yl=tx('Array spacing (nm)',{x:0,y:0,'text-anchor':'middle','font-size':14,fill:'#222',transform:`translate(${x0-36},${(y0+y1)/2}) rotate(-90)`},g);
 
 
 const pl=tx(label,{x:x0-48,y:108,'font-size':14,'font-weight':'bold',fill:'#111'},g);
 
 
 [['flat','#a9cfeb',139],['patterned','#cf1f47',153]].forEach(L=>{
  const r=mk('rect',{x:x0+7,y:L[2]-3,width:21,height:6.5,fill:L[1],stroke:'#444','stroke-width':0.6},g);
  
  
  const t=tx(L[0],{x:x0+35,y:L[2]+3.5,'font-size':10.5,fill:'#222'},g);
  
  
 });
}
(function(){
const g=document.getElementById('fig3');
boxPanel(g,2001,2134,1570,1595,gTicks,['1570','1582.5','1595'],'G Peak position','(A)',gFlatQ1,gFlatQ3,gFlatLo,gFlatHi,gFlatMed,gPatQ1,gPatQ3,gPatLo,gPatHi,gPatMed);
boxPanel(g,2214,2348,2660,2685,dTicks,['2660','2672.5','2685'],'2D Peak position','(B)',dFlatQ1,dFlatQ3,dFlatLo,dFlatHi,dFlatMed,dPatQ1,dPatQ3,dPatLo,dPatHi,dPatMed);
const x0=2427,x1=2668,y0=128,y1=354;
const X=lin(1570,1610,x0,x1), Y=lin(2655.1,2710,y1,y0);
axesFrame(g,x0,y0,x1,y1);
scatterXTicks.forEach(t=>{
 const a=mk('line',{x1:X(t),y1:y1,x2:X(t),y2:y1-5,stroke:'#222'},g);
 
 
 const b=mk('line',{x1:X(t),y1:y0,x2:X(t),y2:y0+5,stroke:'#222'},g);
 
 
 const l=tx(String(t),{x:X(t),y:y1+17,'text-anchor':'middle','font-size':11.5,fill:'#222'},g);
 
 
});
scatterYTicks.forEach(t=>{
 const a=mk('line',{x1:x0,y1:Y(t),x2:x0+5,y2:Y(t),stroke:'#222'},g);
 
 
 const b=mk('line',{x1:x1,y1:Y(t),x2:x1-5,y2:Y(t),stroke:'#222'},g);
 
 
 const l=tx(String(t),{x:x0-5,y:Y(t)+4,'text-anchor':'end','font-size':11.5,fill:'#222'},g);
 
 
});
const cg=mk('g',{},g);
patSparseG.forEach((v,i)=>{
 const c=mk('circle',{cx:X(v),cy:Y(patSparse2D[i]),r:1.8,fill:'#e0245a','fill-opacity':0.5},cg);
 
 
});
patCoreG.forEach((v,i)=>{
 const c=mk('circle',{cx:X(v),cy:Y(patCore2D[i]),r:4.5,fill:'#e0245a','fill-opacity':0.8},cg);
 
 
});
flatG.forEach((v,i)=>{
 const c=mk('circle',{cx:X(v),cy:Y(flat2D[i]),r:3.5,fill:'#8fcaf0','fill-opacity':0.75},cg);
 
 
});
const sl=mk('line',{x1:X(strainLine[0][0]),y1:Y(strainLine[0][1]),x2:X(strainLine[1][0]),y2:Y(strainLine[1][1]),stroke:'#111','stroke-width':1.3,'stroke-dasharray':'4 3'},g);


const dl=mk('line',{x1:X(dopingLine[0][0]),y1:Y(dopingLine[0][1]),x2:X(dopingLine[1][0]),y2:Y(dopingLine[1][1]),stroke:'#777','stroke-width':1.1,'stroke-dasharray':'1.5 2'},g);


const st=tx('strain',{x:0,y:0,'font-size':11,fill:'#111','font-style':'italic',transform:`translate(${X(1593.5)},${Y(2692)}) rotate(-62)`},g);


const dt=tx('doping',{x:0,y:0,'font-size':11,fill:'#888','font-style':'italic',transform:`translate(${X(1600.5)},${Y(2684)}) rotate(-33)`},g);


[['flat','#8fcaf0',146],['patterned','#e0245a',167]].forEach(L=>{
 const c=mk('circle',{cx:2455,cy:L[2],r:2,fill:L[1]},g);
 
 
 const t=tx(L[0],{x:2478,y:L[2]+5,'font-size':14,fill:'#222'},g);
 
 
});
const xl=tx('G frequency (1/cm)',{x:(x0+x1)/2,y:390,'text-anchor':'middle','font-size':14,fill:'#222'},g);


const yl=tx('2D frequency (1/cm)',{x:0,y:0,'text-anchor':'middle','font-size':14,fill:'#222',transform:`translate(${x0-40},${(y0+y1)/2}) rotate(-90)`},g);


const pl=tx('(C)',{x:2366,y:108,'font-size':14,'font-weight':'bold',fill:'#111'},g);


})();

// ---------- Figure 4: heatmaps ----------
function bwr(t){t=Math.max(0,Math.min(1,t));let r,gg,b;if(t<0.5){r=gg=Math.round(510*t);b=255;}else{r=255;gg=b=Math.round(255*(2-2*t));}return `rgb(${r},${gg},${b})`;}
function heatmap(g,x0,y0,w,h,clip,vals,vmin,vmax,cbx,cticks,cfmt,label,showX){
 const X=lin(10,35,x0,x0+w), Y=lin(5,-5,y0,y0+h);
 const hg=mk('g',{'clip-path':`url(#${clip})`},g);
 const bg=mk('g',{filter:'url(#hblur)'},hg);
 const cw=X(12.5)-X(10), ch=Y(4)-Y(5);
 fieldT.forEach((f,ri)=>{gateV.forEach((v,ci)=>{
  let xa=X(v)-cw/2, xb=X(v)+cw/2, ya=Y(f)-ch/2, yb=Y(f)+ch/2;
  if(ci===0)xa-=20; if(ci===gateV.length-1)xb+=20; if(ri===0)ya-=20; if(ri===fieldT.length-1)yb+=20;
  const c=mk('rect',{x:xa,y:ya,width:xb-xa+0.5,height:yb-ya+0.5,fill:bwr((vals[ri][ci]-vmin)/(vmax-vmin))},bg);
  
  
 });});
 const zl=mk('line',{x1:x0,y1:Y(0),x2:x0+w,y2:Y(0),stroke:'#ff6060','stroke-opacity':0.35,'stroke-width':2},hg);
 
 
 axesFrame(g,x0,y0,x0+w,y0+h);
 gateTicks.forEach(t=>{
  const a=mk('line',{x1:X(t),y1:y0+h,x2:X(t),y2:y0+h-4,stroke:'#222'},g);
  
  
  const b=mk('line',{x1:X(t),y1:y0,x2:X(t),y2:y0+4,stroke:'#222'},g);
  
  
  const l=tx(String(t),{x:X(t),y:y0+h+14,'text-anchor':'middle','font-size':10.5,fill:'#222'},g);
  
  
 });
 fieldTicks.forEach(t=>{
  const a=mk('line',{x1:x0,y1:Y(t),x2:x0+4,y2:Y(t),stroke:'#222'},g);
  
  
  const b=mk('line',{x1:x0+w,y1:Y(t),x2:x0+w-4,y2:Y(t),stroke:'#222'},g);
  
  
  const l=tx(fmt(t),{x:x0-5,y:Y(t)+4,'text-anchor':'end','font-size':10.5,fill:'#222'},g);
  
  
 });
 const cb=mk('rect',{x:cbx,y:y0,width:12.5,height:h,fill:'url(#cbar)',stroke:'#222','stroke-width':0.8},g);
 
 
 const CY=lin(vmin,vmax,y0+h,y0);
 cticks.forEach(t=>{
  const l=tx(cfmt(t),{x:cbx+17,y:CY(t)+4,'font-size':10.5,fill:'#222'},g);
  
  
 });
 if(showX){
  const xl=tx('Gate voltage (V)',{x:x0+w/2,y:y0+h+31,'text-anchor':'middle','font-size':13,fill:'#222'},g);
  
  
 }
 const yl=tx('Field (T)',{x:0,y:0,'text-anchor':'middle','font-size':13,fill:'#222',transform:`translate(${x0-26},${y0+h/2}) rotate(-90)`},g);
 
 
 const pl=tx(label,{x:x0-43,y:y0+12,'font-size':14,'font-weight':'bold',fill:'#111'},g);
 
 
}
(function(){
const g=document.getElementById('fig4');
heatmap(g,2028,590,248,157,'clipA',rA,35.2,98.4,2279,cbarTicksA,t=>String(t),'(A)',true);
heatmap(g,2357,590,249,157,'clipB',rB,0.59,2.94,2610,cbarTicksB,t=>t.toFixed(2),'(B)',true);
heatmap(g,2028,787,248,157,'clipC',rC,34.8,73.2,2279,cbarTicksC,t=>String(t),'(C)',true);
const dg=mk('g',{},g);


const pk=[2405,2470,2536,2601];
let pil='M2371,857 ';
pk.forEach(p=>{pil+=`L${p-24},857 Q${p-4},852 ${p},789 Q${p+4},852 ${p+24},857 `;});
pil+='L2633,857 L2633,868 L2371,868 Z';
const sub=mk('path',{d:pil,fill:'#9f8bb6',stroke:'#111','stroke-width':1.6},dg);


let gr='M2378,856 ';
pk.forEach(p=>{gr+=`L${p-34},856 Q${p-6},850 ${p},789 Q${p+6},850 ${p+34},856 `;});
gr+='L2630,856';
const gp=mk('path',{d:gr,fill:'none',stroke:'#777','stroke-width':1.6},dg);


const l1=tx('graphene \u2192',{x:2320,y:823,'font-size':13,fill:'#111'},dg);


const l2=tx('SiO\u2082 \u2192',{x:2320,y:867,'font-size':13,fill:'#111'},dg);


const ax1=mk('line',{x1:2367,y1:898,x2:2367,y2:960,stroke:'#111','stroke-width':1.3},dg);


const ax2=mk('line',{x1:2357,y1:949,x2:2638,y2:949,stroke:'#111','stroke-width':1.3},dg);


let vc='M2381,933 ';
pk.forEach((p,i)=>{vc+=`Q${p-10},925 ${p},907 Q${p+10},925 ${p+20},935 L${p+46},935 `;});
const vp=mk('path',{d:vc.replace(/L[0-9.]+,935 $/,''),fill:'none',stroke:'#111','stroke-width':1.6},dg);


const l3=tx('V',{x:2341,y:928,'font-size':13,fill:'#111'},dg);


const l3b=tx('eff',{x:2350,y:931,'font-size':8,fill:'#111'},dg);


const l4=tx('x',{x:2500,y:966,'font-size':13,fill:'#111'},dg);


const l5=tx('(D)',{x:2314,y:797,'font-size':14,'font-weight':'bold',fill:'#111'},dg);


})();
</script>
</body></html>
